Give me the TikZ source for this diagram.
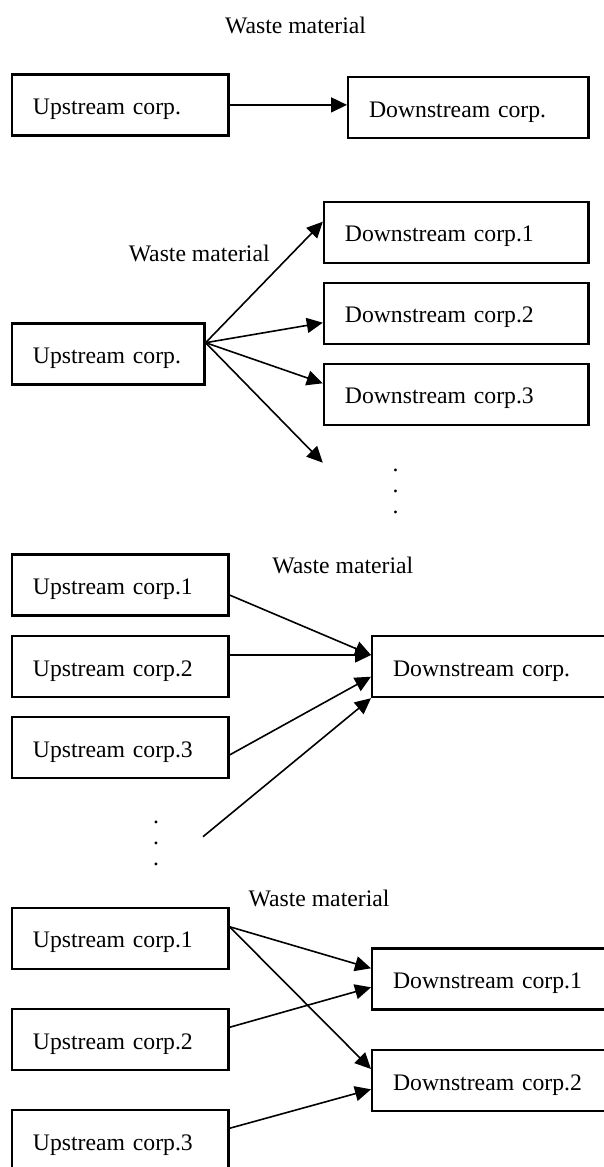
\documentclass[tikz,border=0pt]{standalone}
\usepackage{fontspec}
\setmainfont{Liberation Serif}
\usetikzlibrary{arrows.meta,calc}
\tikzset{
  cbox/.style={draw, line width=1.1pt, anchor=north west, minimum height=30.5pt,
    inner xsep=10.5pt, text width=#1, align=left, text height=9.5pt, text depth=0pt,
    font=\fontsize{11.85}{14}\selectfont},
  lbl/.style={inner sep=0pt, font=\fontsize{11.85}{14}\selectfont},
  dotn/.style={inner sep=0pt, align=center, font=\fontsize{11.85}{10.5}\selectfont},
  arr/.style={line width=0.8pt, -{Triangle[length=8pt,width=7.5pt]}}
}
\begin{document}
\begin{tikzpicture}[x=0.5pt,y=-0.5pt]
\useasboundingbox (0,0) rectangle (604,1167);
\clip (0,0) rectangle (604,1167);
% group 1
\node[lbl] (w1) at (295.5,25) {Waste material};
\node[cbox=87.25pt] (g1u) at (10.8,73.3) {Upstream corp.};
\node[cbox=99.2pt] (g1d) at (347,76) {Downstream corp.};
\draw[arr] (g1u.east) -- (g1u.east -| g1d.west);
% group 2
\node[lbl] (w2) at (199.2,253.3) {Waste material};
\node[cbox=75.3pt] (g2u) at (10.8,322.3) {Upstream corp.};
\node[cbox=111.3pt] (g2d1) at (322.8,200.7) {Downstream corp.1};
\node[cbox=111.3pt] (g2d2) at (322.8,281.7) {Downstream corp.2};
\node[cbox=111.3pt] (g2d3) at (322.8,362.7) {Downstream corp.3};
\coordinate (g2o) at ($(g2u.north east)+(0,20.4)$);
\coordinate (g2free) at (322.8,462.7);
\draw[arr] (g2o) -- ($(g2d1.north west)+(0,21)$);
\draw[arr] (g2o) -- ($(g2d2.north west)+(0,41)$);
\draw[arr] (g2o) -- ($(g2d3.north west)+(0,20.6)$);
\draw[arr] (g2o) -- (g2free);
\node[dotn] (g2dots) at (395.6,491.7) {.\\.\\.};
% group 3
\node[lbl] (w3) at (342.8,565) {Waste material};
\node[cbox=87.25pt] (g3u1) at (10.8,553.3) {Upstream corp.1};
\node[cbox=87.25pt] (g3u2) at (10.8,635) {Upstream corp.2};
\node[cbox=87.25pt] (g3u3) at (10.8,716) {Upstream corp.3};
\node[cbox=109pt] (g3d) at (371,635) {Downstream corp.};
\coordinate (g3free) at (203,836.7);
\draw[arr] ($(g3u1.north east)+(0,41.7)$) -- ($(g3d.north west)+(0,20)$);
\draw[arr] ($(g3u2.north east)+(0,20)$) -- ($(g3d.north west)+(0,20)$);
\draw[arr] ($(g3u3.north east)+(0,39)$) -- ($(g3d.north west)+(0,41.7)$);
\draw[arr] (g3free) -- (g3d.south west);
\node[dotn] (g3dots) at (156,843.3) {.\\.\\.};
% group 4
\node[lbl] (w4) at (319,898) {Waste material};
\node[cbox=87.25pt] (g4u1) at (10.8,906.7) {Upstream corp.1};
\node[cbox=87.25pt] (g4u2) at (10.8,1008) {Upstream corp.2};
\node[cbox=87.25pt] (g4u3) at (10.8,1109) {Upstream corp.3};
\node[cbox=109pt] (g4d1) at (371,947.3) {Downstream corp.1};
\node[cbox=109pt] (g4d2) at (371,1049) {Downstream corp.2};
\coordinate (g4o) at ($(g4u1.north east)+(0,20)$);
\draw[arr] (g4o) -- ($(g4d1.north west)+(0,21)$);
\draw[arr] (g4o) -- ($(g4d2.north west)+(0,20)$);
\draw[arr] ($(g4u2.north east)+(0,19.3)$) -- ($(g4d1.north west)+(0,40)$);
\draw[arr] ($(g4u3.north east)+(0,19.3)$) -- ($(g4d2.north west)+(0,40.3)$);
\end{tikzpicture}
\end{document}
